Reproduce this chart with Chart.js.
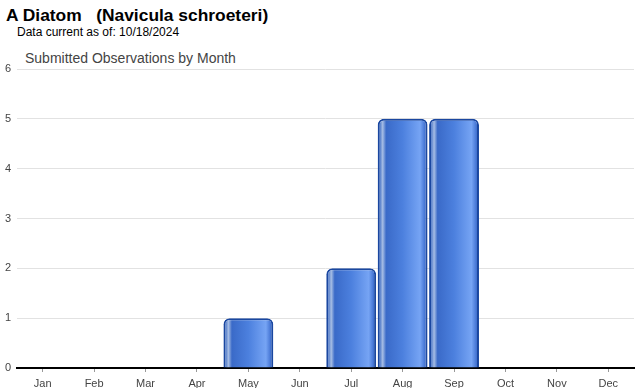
<!DOCTYPE html>
<html>
<head>
<meta charset="utf-8">
<script src="https://cdn.jsdelivr.net/npm/chart.js@4/dist/chart.umd.min.js"></script>
<style>
  body { margin: 0; background: #fff; font-family: "Liberation Sans", Arial, sans-serif; }
  #wrap { position: relative; width: 640px; height: 390px; }
  #name { position: absolute; left: 6px; top: 5px; font-size: 17.4px; font-weight: bold; white-space: pre; color: #000; }
  #asof { position: absolute; left: 17px; top: 25px; font-size: 12px; color: #000; }
  #sub { position: absolute; left: 25px; top: 50px; font-size: 14px; color: #444; }
  #box { position: absolute; left: 0; top: 42px; width: 640px; height: 348px; }
</style>
</head>
<body>
<div id="wrap">
  <div id="name">A Diatom   (Navicula schroeteri)</div>
  <div id="asof">Data current as of: 10/18/2024</div>
  <div id="sub">Submitted Observations by Month</div>
  <div id="box"><canvas id="chart"></canvas></div>
</div>
<script>
const months = ['Jan', 'Feb', 'Mar', 'Apr', 'May', 'Jun', 'Jul', 'Aug', 'Sep', 'Oct', 'Nov', 'Dec'];
const observations = [0, 0, 0, 0, 1, 0, 2, 5, 5, 0, 0, 0];
const yTicks = [0, 1, 2, 3, 4, 5, 6];

const barPct = 0.97;

// cylinder-like shading across each bar
function barFill(ctx) {
    const chart = ctx.chart;
    if (!chart.chartArea) return '#3a6fd0';
    const xs = chart.scales.x;
    const catW = xs.width / months.length;
    const w = catW * barPct;
    const cx = xs.getPixelForValue(ctx.dataIndex);
    const g = chart.ctx.createLinearGradient(cx - w / 2, 0, cx + w / 2, 0);
    g.addColorStop(0, '#1848a6');
    g.addColorStop(0.05, '#5a82cc');
    g.addColorStop(0.1, '#a6bde4');
    g.addColorStop(0.17, '#3a6ac8');
    g.addColorStop(0.5, '#4c80de');
    g.addColorStop(0.85, '#76a4f4');
    g.addColorStop(0.94, '#4878d6');
    g.addColorStop(1, '#1848a6');
    return g;
}

const ctx = document.getElementById('chart').getContext('2d');
new Chart(ctx, {
    type: 'bar',
    data: {
        labels: months,
        datasets: [{
            data: observations,
            backgroundColor: barFill,
            borderColor: '#1a47a0',
            borderWidth: 2,
            borderRadius: 6,
            borderSkipped: 'bottom',
            barPercentage: barPct,
            categoryPercentage: 1
        }]
    },
    options: {
        responsive: true,
        maintainAspectRatio: false,
        animation: false,
        layout: { padding: { top: 27, right: 6, bottom: 2, left: 0 } },
        plugins: {
            legend: { display: false },
            tooltip: { enabled: false }
        },
        scales: {
            x: {
                afterFit: (s) => { s.height = 20; },
                grid: { offset: false, drawOnChartArea: false, drawTicks: true, tickLength: 4, color: '#999' },
                border: { color: '#000', width: 2 },
                ticks: { color: '#444', font: { family: 'Liberation Sans', size: 11 }, padding: 5 }
            },
            y: {
                min: 0,
                max: 6,
                afterFit: (s) => { s.width = 17; },
                afterBuildTicks: (s) => { s.ticks = yTicks.map(v => ({ value: v })); },
                grid: { color: '#e2e2e2', drawTicks: false },
                border: { display: false },
                ticks: { color: '#444', font: { family: 'Liberation Sans', size: 11 }, padding: 6 }
            }
        }
    }
});
</script>
</body>
</html>
